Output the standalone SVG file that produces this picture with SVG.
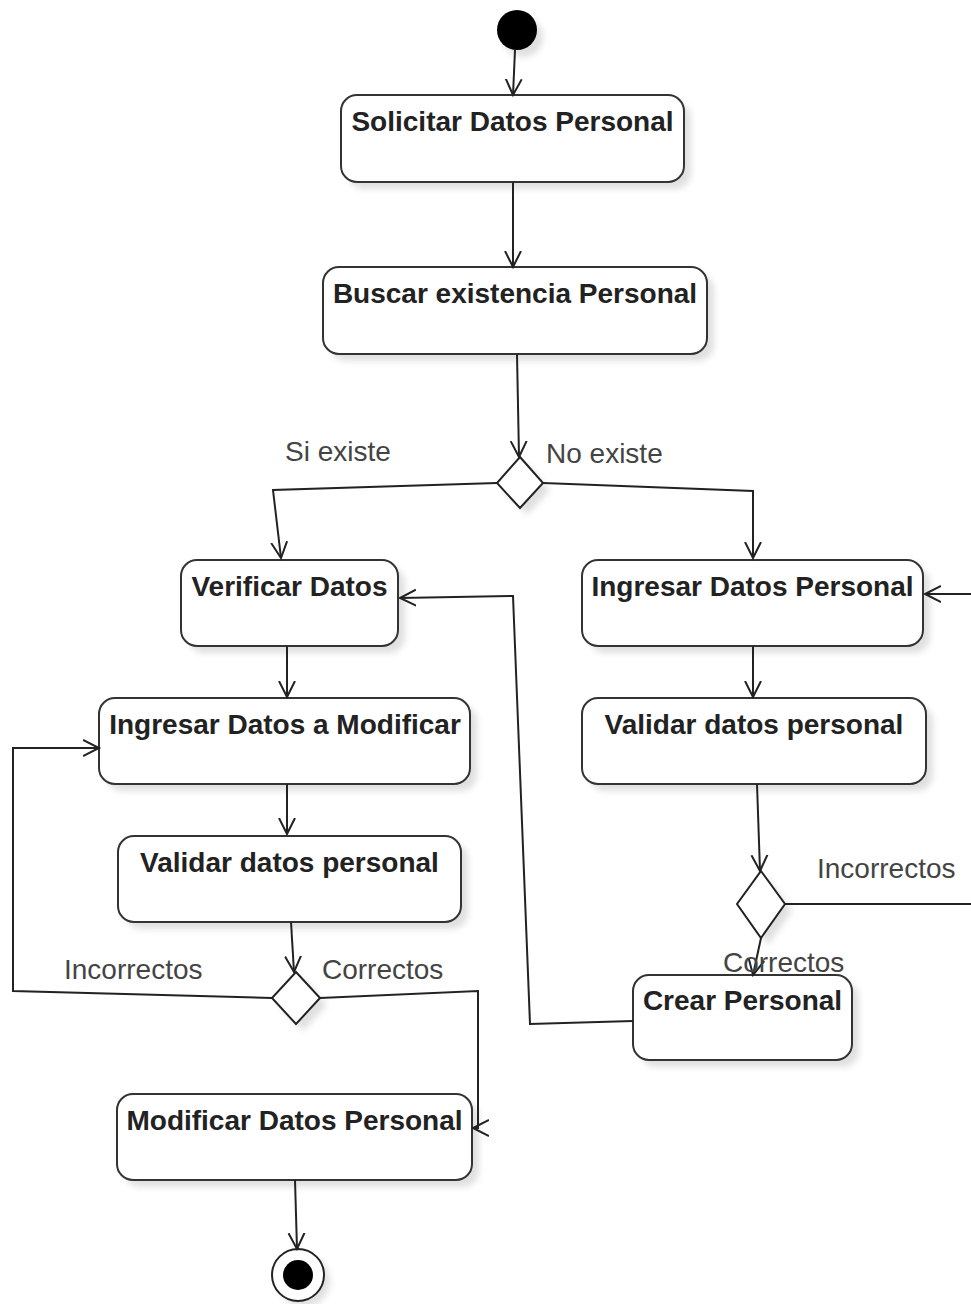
<svg xmlns="http://www.w3.org/2000/svg" width="971" height="1304" viewBox="0 0 971 1304">
<defs>
<marker id="arr" markerUnits="userSpaceOnUse" markerWidth="20" markerHeight="20" refX="16" refY="8" orient="auto" viewBox="0 0 20 16">
<path d="M0,0 L16,8 L0,16" fill="none" stroke="#222" stroke-width="2"/>
</marker>
<filter id="sh" x="-10%" y="-10%" width="130%" height="140%">
<feGaussianBlur stdDeviation="3"/>
</filter>
</defs>
<style>
.box{fill:#fff;stroke:#333;stroke-width:2}
.shadow{fill:#e0e0e0;filter:url(#sh)}
.t{font-family:"Liberation Sans",Arial,sans-serif;font-weight:bold;font-size:28px;fill:#222;text-anchor:middle}
.lbl{font-family:"Liberation Sans",Arial,sans-serif;font-size:28px;fill:#444}
.c{fill:none;stroke:#222;stroke-width:2;marker-end:url(#arr)}
.dia{fill:#fff;stroke:#222;stroke-width:2}
</style>
<rect width="971" height="1304" fill="#fff"/>

<g id="start">
<circle cx="523" cy="37" r="20" class="shadow"/>
<circle cx="517" cy="30" r="20" fill="#000"/>
</g>

<g id="solicitar">
<rect x="348" y="102" width="343" height="87" rx="16" class="shadow"/>
<rect x="341" y="95" width="343" height="87" rx="16" class="box"/>
<text x="512.5" y="131" class="t">Solicitar Datos Personal</text>
</g>

<g id="buscar">
<rect x="330" y="274" width="384" height="87" rx="16" class="shadow"/>
<rect x="323" y="267" width="384" height="87" rx="16" class="box"/>
<text x="515" y="303" class="t">Buscar existencia Personal</text>
</g>

<g id="decision1">
<polygon points="527,464 550,490 527,515 504,490" class="shadow"/>
<polygon points="520,457 543,483 520,508 497,483" class="dia"/>
</g>

<g id="verificar">
<rect x="188" y="567" width="217" height="86" rx="16" class="shadow"/>
<rect x="181" y="560" width="217" height="86" rx="16" class="box"/>
<text x="289.5" y="596" class="t">Verificar Datos</text>
</g>

<g id="ingresarPersonal">
<rect x="589" y="567" width="341" height="86" rx="16" class="shadow"/>
<rect x="582" y="560" width="341" height="86" rx="16" class="box"/>
<text x="752.5" y="596" class="t">Ingresar Datos Personal</text>
</g>

<g id="ingresarModificar">
<rect x="106" y="705" width="371" height="86" rx="16" class="shadow"/>
<rect x="99" y="698" width="371" height="86" rx="16" class="box"/>
<text x="285" y="734" class="t">Ingresar Datos a Modificar</text>
</g>

<g id="validarRight">
<rect x="589" y="705" width="344" height="86" rx="16" class="shadow"/>
<rect x="582" y="698" width="344" height="86" rx="16" class="box"/>
<text x="754" y="734" class="t">Validar datos personal</text>
</g>

<g id="validarLeft">
<rect x="125" y="843" width="343" height="86" rx="16" class="shadow"/>
<rect x="118" y="836" width="343" height="86" rx="16" class="box"/>
<text x="289.5" y="872" class="t">Validar datos personal</text>
</g>

<g id="decisionLeft">
<polygon points="303,979 327,1005 303,1031 279,1005" class="shadow"/>
<polygon points="296,972 320,998 296,1024 272,998" class="dia"/>
</g>

<g id="decisionRight">
<polygon points="768,878 792,911 768,945 744,911" class="shadow"/>
<polygon points="761,871 785,904 761,938 737,904" class="dia"/>
</g>

<g id="crear">
<rect x="640" y="982" width="219" height="85" rx="16" class="shadow"/>
<rect x="633" y="975" width="219" height="85" rx="16" class="box"/>
<text x="742.5" y="1010" class="t">Crear Personal</text>
</g>

<g id="modificar">
<rect x="124" y="1101" width="355" height="86" rx="16" class="shadow"/>
<rect x="117" y="1094" width="355" height="86" rx="16" class="box"/>
<text x="294.5" y="1130" class="t">Modificar Datos Personal</text>
</g>

<g id="end">
<circle cx="304" cy="1281" r="26" class="shadow"/>
<circle cx="298" cy="1275" r="26" fill="#fff" stroke="#222" stroke-width="2"/>
<circle cx="298" cy="1275" r="15" fill="#000"/>
</g>

<g id="connectors">
<path class="c" d="M515,50 L513,95"/>
<path class="c" d="M513,182 L513,267"/>
<path class="c" d="M517,354 L519,457"/>
<path class="c" d="M497,483 L273,490 L281,558"/>
<path class="c" d="M543,483 L753,491 L753,558"/>
<path class="c" d="M287,646 L287,697"/>
<path class="c" d="M287,784 L287,834"/>
<path class="c" d="M291,922 L294,972"/>
<path class="c" d="M272,998 L13,991 L13,748 L99,748"/>
<path class="c" d="M320,998 L478,991 L478,1128 L473,1128"/>
<path class="c" d="M295,1180 L297,1249"/>
<path class="c" d="M753,646 L753,697"/>
<path class="c" d="M757,784 L760,871"/>
<path fill="none" stroke="#222" stroke-width="2" d="M785,904 L971,904"/>
<path class="c" d="M971,594 L925,594"/>
<path class="c" d="M761,938 L753,975"/>
<path class="c" d="M633,1021 L530,1024 L513,596 L400,598"/>
</g>

<g id="labels">
<text x="285" y="461" class="lbl">Si existe</text>
<text x="546" y="463" class="lbl">No existe</text>
<text x="64" y="979" class="lbl">Incorrectos</text>
<text x="322" y="979" class="lbl">Correctos</text>
<text x="817" y="878" class="lbl">Incorrectos</text>
<text x="723" y="972" class="lbl">Correctos</text>
</g>
</svg>
